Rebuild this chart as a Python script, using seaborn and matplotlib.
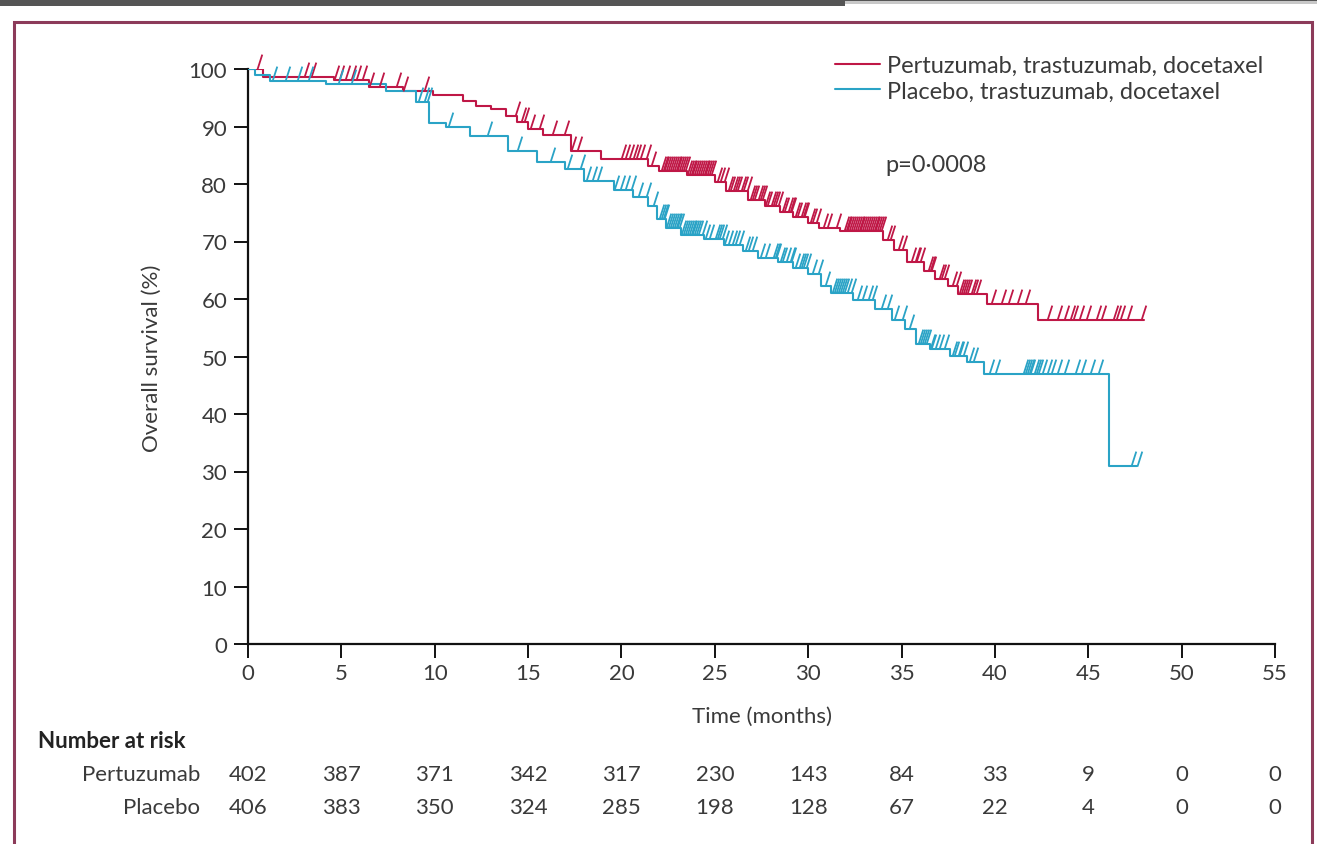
import numpy as np
import pandas as pd
import matplotlib
matplotlib.use("Agg")
import matplotlib.pyplot as plt
from matplotlib.path import Path
from matplotlib.markers import MarkerStyle
from matplotlib.patches import Rectangle
import seaborn as sns

# ---------------- data ----------------
arm_labels = ["Pertuzumab, trastuzumab, docetaxel", "Placebo, trastuzumab, docetaxel"]
risk_row_labels = ["Pertuzumab", "Placebo"]

pert_time = [0, 0.8, 4.6, 6.5, 8.3, 9.9, 11.5, 12.2, 13.0, 13.8, 14.4, 15.0, 15.8, 17.3, 18.9,
             21.4, 22.0, 23.5, 25.0, 25.6, 26.8, 27.7, 28.5, 29.2, 30.0, 30.6, 31.7, 34.0,
             34.6, 35.3, 36.2, 36.8, 37.5, 38.0, 39.6, 42.3, 48.0]
pert_surv = [100, 98.6, 98.1, 96.8, 96.2, 95.4, 94.5, 93.6, 93.0, 91.8, 90.8, 89.6, 88.5, 85.7, 84.3,
             83.2, 82.2, 81.6, 80.4, 78.8, 77.3, 76.2, 75.2, 74.2, 73.2, 72.3, 71.8, 70.2,
             68.5, 66.4, 64.8, 63.5, 62.2, 60.9, 59.1, 56.4, 56.4]

plac_time = [0, 0.4, 1.2, 4.2, 7.4, 9.0, 9.7, 10.6, 11.9, 13.9, 15.5, 17.0, 18.0, 19.6, 20.6,
             21.4, 21.9, 22.4, 23.2, 24.4, 25.5, 26.5, 27.3, 28.4, 29.2, 30.0, 30.7, 31.2,
             32.4, 33.6, 34.5, 35.2, 35.8, 36.5, 37.6, 38.5, 39.4, 46.1, 47.6]
plac_surv = [100, 99.0, 98.0, 97.4, 96.2, 94.2, 90.6, 89.9, 88.3, 85.7, 83.8, 82.6, 80.5, 79.0, 77.8,
             76.2, 74.0, 72.4, 71.2, 70.4, 69.4, 68.4, 67.2, 66.4, 65.4, 64.4, 62.2, 61.0,
             59.8, 58.2, 56.4, 54.8, 52.2, 51.3, 50.1, 49.0, 47.0, 31.0, 31.0]

pert_censor = [0.5, 3.0, 3.4, 4.6, 4.9, 5.2, 5.5, 5.8, 6.1, 6.5, 7.0, 7.9, 8.3, 9.4, 14.3, 14.6, 14.8,
               15.1, 15.6, 16.3, 16.9, 17.3, 17.6, 20.0, 20.2, 20.4, 20.6, 20.8, 21.0, 21.3, 21.6,
               22.1, 22.2, 22.3, 22.4, 22.5, 22.6, 22.7, 22.8, 22.9, 23.0, 23.1, 23.2, 23.3, 23.4,
               23.5, 23.6, 23.7, 23.8, 23.9, 24.0, 24.1, 24.2, 24.3, 24.4, 24.5, 24.6, 24.7, 24.8,
               25.1, 25.3, 25.5, 25.7, 25.8, 26.0, 26.1, 26.2, 26.4, 26.5, 26.7, 26.9, 27.0, 27.1,
               27.3, 27.4, 27.5, 27.7, 27.8, 28.0, 28.1, 28.2, 28.4, 28.6, 28.7, 28.9, 29.0, 29.1,
               29.3, 29.4, 29.6, 29.7, 29.8, 30.1, 30.2, 30.4, 30.8, 31.0, 31.5, 31.9, 32.0, 32.1,
               32.2, 32.3, 32.4, 32.5, 32.6, 32.7, 32.8, 32.9, 33.0, 33.1, 33.2, 33.3, 33.4, 33.5,
               33.6, 33.7, 33.8, 33.9, 34.2, 34.4, 34.8, 35.0, 35.5, 35.7, 35.8, 36.0, 36.4, 36.5,
               36.6, 37.0, 37.1, 37.3, 37.7, 37.9, 38.1, 38.2, 38.3, 38.4, 38.5, 38.7, 38.8, 39.0,
               39.8, 40.3, 40.7, 41.2, 41.6, 42.8, 43.3, 43.7, 44.0, 44.2, 44.5, 44.9, 45.4, 45.7,
               46.3, 46.5, 46.7, 47.1, 47.8]
plac_censor = [1.3, 2.0, 2.6, 3.2, 4.8, 5.5, 9.1, 9.4, 9.6, 10.7, 12.8, 14.4, 16.2, 17.1, 17.8, 18.1,
               18.4, 18.7, 19.6, 19.9, 20.2, 20.5, 20.9, 21.3, 21.7, 22.0, 22.1, 22.2, 22.3, 22.4,
               22.5, 22.6, 22.7, 22.8, 22.9, 23.0, 23.1, 23.2, 23.3, 23.4, 23.5, 23.6, 23.7, 23.8,
               23.9, 24.0, 24.1, 24.3, 24.5, 24.7, 25.0, 25.1, 25.2, 25.4, 25.5, 25.7, 25.9, 26.1,
               26.3, 26.6, 26.8, 27.0, 27.4, 27.7, 28.1, 28.2, 28.3, 28.5, 28.6, 28.8, 29.0, 29.1,
               29.3, 29.5, 29.6, 29.7, 29.9, 30.2, 30.5, 30.9, 31.3, 31.4, 31.5, 31.6, 31.7, 31.8,
               31.9, 32.1, 32.3, 32.6, 32.9, 33.2, 33.4, 33.9, 34.2, 34.6, 35.0, 35.4, 35.9, 36.0,
               36.1, 36.2, 36.3, 36.5, 36.6, 36.8, 37.0, 37.3, 37.7, 37.8, 38.0, 38.1, 38.3, 38.6,
               38.8, 39.7, 40.0, 41.5, 41.6, 41.7, 41.8, 41.9, 42.1, 42.2, 42.3, 42.5, 42.8, 43.0,
               43.3, 43.7, 44.3, 44.6, 45.1, 45.5, 47.3, 47.6]

risk_times = [0, 5, 10, 15, 20, 25, 30, 35, 40, 45, 50, 55]
pert_risk = [402, 387, 371, 342, 317, 230, 143, 84, 33, 9, 0, 0]
plac_risk = [406, 383, 350, 324, 285, 198, 128, 67, 22, 4, 0, 0]

x_ticks = [0, 5, 10, 15, 20, 25, 30, 35, 40, 45, 50, 55]
y_ticks = [0, 10, 20, 30, 40, 50, 60, 70, 80, 90, 100]
p_text = "p=0·0008"

# ---------------- style ----------------
sns.set_theme(style="white")
plt.rcParams["font.family"] = ["Lato", "DejaVu Sans"]
TXT = "#3a3a3a"
RED = "#bf1746"
BLUE = "#2aa3c6"
FS = 16

W, H = 1317, 845
fig = plt.figure(figsize=(W / 100, H / 100), dpi=100)
fig.patch.set_facecolor("white")

# page decorations (top strip + frame)
fig.add_artist(Rectangle((0, 1 - 7 / H), 845 / W, 7 / H, transform=fig.transFigure,
                         facecolor="#555555", edgecolor="none"))
fig.add_artist(Rectangle((845 / W, 1 - 2 / H), 1 - 845 / W, 2 / H, transform=fig.transFigure,
                         facecolor="#555555", edgecolor="none"))
fig.add_artist(Rectangle((845 / W, 1 - 5 / H), 1 - 845 / W, 3 / H, transform=fig.transFigure,
                         facecolor="#c8c8c8", edgecolor="none"))
fig.add_artist(Rectangle((14 / W, -0.05), (1312 - 14) / W, 1.05 - 23 / H, transform=fig.transFigure,
                         facecolor="none", edgecolor="#8c3b5a", linewidth=2.2))

ax = fig.add_axes([248 / W, 1 - 645 / H, (1275 - 248) / W, (645 - 70) / H])
ax.set_facecolor("none")

df = pd.concat([
    pd.DataFrame({"time": pert_time, "surv": pert_surv, "arm": arm_labels[0]}),
    pd.DataFrame({"time": plac_time, "surv": plac_surv, "arm": arm_labels[1]}),
])
sns.lineplot(data=df, x="time", y="surv", hue="arm", palette=[RED, BLUE], estimator=None,
             sort=False, drawstyle="steps-post", linewidth=1.5, legend=False, ax=ax, zorder=3)


def step_value(times, survs, t):
    idx = np.searchsorted(np.asarray(times), t, side="right") - 1
    return np.asarray(survs)[idx]


tick_marker = MarkerStyle(Path([(0, 0), (0.32, 1)]))
for cens, times, survs, col in [(pert_censor, pert_time, pert_surv, RED),
                                (plac_censor, plac_time, plac_surv, BLUE)]:
    cy = [step_value(times, survs, t) for t in cens]
    sns.scatterplot(x=cens, y=cy, marker=tick_marker, s=460, color=col, edgecolor=col,
                    linewidth=1.3, legend=False, ax=ax, zorder=4, clip_on=False)

ax.set_xlim(0, 55)
ax.set_ylim(0, 100)
ax.set_xticks(x_ticks)
ax.set_yticks(y_ticks)
ax.set_xticklabels([str(v) for v in x_ticks])
ax.set_yticklabels([str(v) for v in y_ticks])
for s in ["top", "right"]:
    ax.spines[s].set_visible(False)
for s in ["left", "bottom"]:
    ax.spines[s].set_color("#111111")
    ax.spines[s].set_linewidth(1.6)
ax.tick_params(axis="both", direction="out", length=10, width=1.4, color="#111111",
               labelsize=FS, labelcolor=TXT, left=True, bottom=True)
ax.tick_params(axis="x", pad=4)
ax.tick_params(axis="y", pad=5)
ax.set_xlabel("")
ax.set_ylabel("")

fig.text(762 / W, 1 - 717 / H, "Time (months)", ha="center", va="center", fontsize=FS, color=TXT)
fig.text(152 / W, 1 - 358 / H, "Overall survival (%)", ha="center", va="center", rotation=90,
         fontsize=FS, color=TXT)

# legend
handles = ax.lines[:2]
leg = ax.legend(handles, arm_labels, loc="upper left", bbox_to_anchor=(835 / W, 1 - 56 / H),
                bbox_transform=fig.transFigure, frameon=False, fontsize=17, handlelength=1.9,
                handletextpad=0.3, labelspacing=0.2, borderpad=0, borderaxespad=0)
for t in leg.get_texts():
    t.set_color(TXT)

fig.text(885 / W, 1 - 165 / H, p_text, ha="left", va="center", fontsize=17, color=TXT)

# number at risk table
fig.text(38 / W, 1 - 742 / H, "Number at risk", ha="left", va="center", fontsize=FS,
         fontweight="bold", color="#222222")
trans = matplotlib.transforms.blended_transform_factory(ax.transData, fig.transFigure)
for row_label, vals, ypix in [(risk_row_labels[0], pert_risk, 775), (risk_row_labels[1], plac_risk, 808)]:
    fig.text(200 / W, 1 - ypix / H, row_label, ha="right", va="center", fontsize=FS, color=TXT)
    for tx, v in zip(risk_times, vals):
        ax.text(tx, 1 - ypix / H, str(v), transform=trans, ha="center", va="center",
                fontsize=FS, color=TXT, clip_on=False)

fig.savefig("out.png", dpi=100)
